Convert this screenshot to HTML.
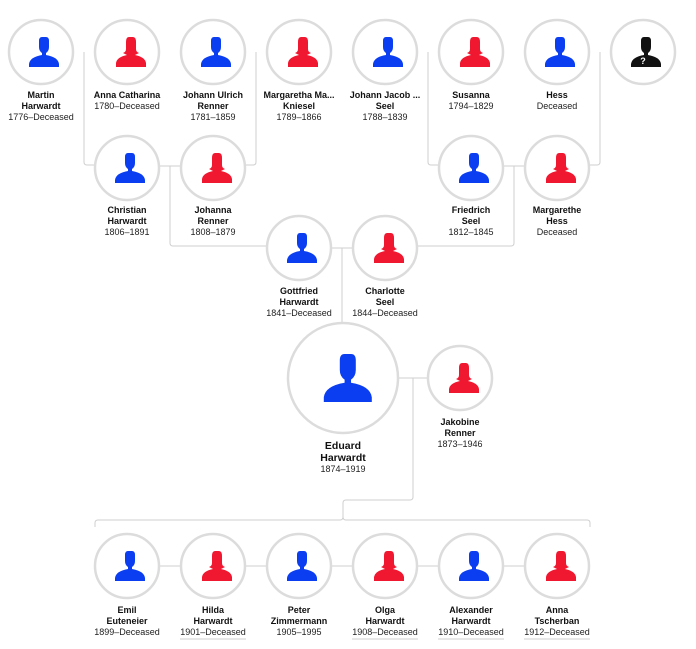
<!DOCTYPE html>
<html><head><meta charset="utf-8"><style>
html,body{margin:0;padding:0;background:#fff;}
svg{display:block;font-family:"Liberation Sans",sans-serif;}
.n{font-weight:bold;font-size:9px;fill:#111;text-anchor:middle}
.d{font-size:9px;fill:#222;text-anchor:middle}
.c{fill:#fff;stroke:#dcdcdc;stroke-width:2.5}
.l{fill:none;stroke:#cfcfcf;stroke-width:1}
</style></head><body>
<svg width="696" height="649" viewBox="0 0 696 649">
<defs>
<path id="m" d="M-5,-15 h10 q3,0 3,4 v6 q0,4 -3,6 v2 q12,2 13,9 v3 h-30 v-3 q1,-7 13,-9 v-2 q-3,-2 -3,-6 v-6 q0,-4 3,-4z" fill="#0b3ef0"/>
<path id="f" d="M-6,-15 h12 q3,0 3,5 v7 q0,3 3,4 l-4,2 q10,2 11,8 v4 h-30 v-4 q1,-6 11,-8 l-4,-2 q3,-1 3,-4 v-7 q0,-5 3,-5z" fill="#f01830"/>
<path id="u" d="M-5,-15 h10 q3,0 3,4 v6 q0,4 -3,6 v2 q12,2 13,9 v3 h-30 v-3 q1,-7 13,-9 v-2 q-3,-2 -3,-6 v-6 q0,-4 3,-4z" fill="#111"/>
</defs>
<!-- connectors -->
<path class="l" d="M84,52 V162 q0,3 3,3 H95"/>
<path class="l" d="M256,52 V162 q0,3 -3,3 H245"/>
<path class="l" d="M428,52 V162 q0,3 3,3 H439"/>
<path class="l" d="M600,52 V162 q0,3 -3,3 H589"/>
<path class="l" d="M159,166 H181 M170,166 V243 q0,3 3,3 H267"/>
<path class="l" d="M503,166 H525 M514,166 V243 q0,3 -3,3 H417"/>
<path class="l" d="M331,248 H353 M342,248 V325"/>
<path class="l" d="M398,378 H428 M413,378 V497 q0,3 -3,3 H346 q-3,0 -3,3 V517 q0,3 -3,3 H98 q-3,0 -3,3 V527 M343,517 q0,3 3,3 H587 q3,0 3,3 V527"/>
<path class="l" d="M159,566 H181 M245,566 H267 M331,566 H353 M417,566 H439 M503,566 H525"/>
<!-- nodes -->
<g>
<circle class="c" cx="41" cy="52" r="32"/><use href="#m" x="41" y="52"/>
<circle class="c" cx="127" cy="52" r="32"/><use href="#f" x="127" y="52"/>
<circle class="c" cx="213" cy="52" r="32"/><use href="#m" x="213" y="52"/>
<circle class="c" cx="299" cy="52" r="32"/><use href="#f" x="299" y="52"/>
<circle class="c" cx="385" cy="52" r="32"/><use href="#m" x="385" y="52"/>
<circle class="c" cx="471" cy="52" r="32"/><use href="#f" x="471" y="52"/>
<circle class="c" cx="557" cy="52" r="32"/><use href="#m" x="557" y="52"/>
<circle class="c" cx="643" cy="52" r="32"/><use href="#u" x="643" y="52"/>
<text x="643" y="64" font-size="9" font-weight="bold" fill="#fff" text-anchor="middle">?</text>
<circle class="c" cx="127" cy="168" r="32"/><use href="#m" x="127" y="168"/>
<circle class="c" cx="213" cy="168" r="32"/><use href="#f" x="213" y="168"/>
<circle class="c" cx="471" cy="168" r="32"/><use href="#m" x="471" y="168"/>
<circle class="c" cx="557" cy="168" r="32"/><use href="#f" x="557" y="168"/>
<circle class="c" cx="299" cy="248" r="32"/><use href="#m" x="299" y="248"/>
<circle class="c" cx="385" cy="248" r="32"/><use href="#f" x="385" y="248"/>
<circle class="c" cx="343" cy="378" r="55" stroke-width="3"/><use href="#m" x="343" y="378" transform="translate(343 378) scale(1.6) translate(-343 -378)"/>
<circle class="c" cx="460" cy="378" r="32"/><use href="#f" x="460" y="378"/>
<circle class="c" cx="127" cy="566" r="32"/><use href="#m" x="127" y="566"/>
<circle class="c" cx="213" cy="566" r="32"/><use href="#f" x="213" y="566"/>
<circle class="c" cx="299" cy="566" r="32"/><use href="#m" x="299" y="566"/>
<circle class="c" cx="385" cy="566" r="32"/><use href="#f" x="385" y="566"/>
<circle class="c" cx="471" cy="566" r="32"/><use href="#m" x="471" y="566"/>
<circle class="c" cx="557" cy="566" r="32"/><use href="#f" x="557" y="566"/>
</g>
<!-- labels -->
<text class="n" x="41" y="98">Martin</text><text class="n" x="41" y="109">Harwardt</text><text class="d" x="41" y="120">1776–Deceased</text>
<text class="n" x="127" y="98">Anna Catharina</text><text class="d" x="127" y="109">1780–Deceased</text>
<text class="n" x="213" y="98">Johann Ulrich</text><text class="n" x="213" y="109">Renner</text><text class="d" x="213" y="120">1781–1859</text>
<text class="n" x="299" y="98">Margaretha Ma...</text><text class="n" x="299" y="109">Kniesel</text><text class="d" x="299" y="120">1789–1866</text>
<text class="n" x="385" y="98">Johann Jacob ...</text><text class="n" x="385" y="109">Seel</text><text class="d" x="385" y="120">1788–1839</text>
<text class="n" x="471" y="98">Susanna</text><text class="d" x="471" y="109">1794–1829</text>
<text class="n" x="557" y="98">Hess</text><text class="d" x="557" y="109">Deceased</text>
<text class="n" x="127" y="213">Christian</text><text class="n" x="127" y="224">Harwardt</text><text class="d" x="127" y="235">1806–1891</text>
<text class="n" x="213" y="213">Johanna</text><text class="n" x="213" y="224">Renner</text><text class="d" x="213" y="235">1808–1879</text>
<text class="n" x="471" y="213">Friedrich</text><text class="n" x="471" y="224">Seel</text><text class="d" x="471" y="235">1812–1845</text>
<text class="n" x="557" y="213">Margarethe</text><text class="n" x="557" y="224">Hess</text><text class="d" x="557" y="235">Deceased</text>
<text class="n" x="299" y="294">Gottfried</text><text class="n" x="299" y="305">Harwardt</text><text class="d" x="299" y="316">1841–Deceased</text>
<text class="n" x="385" y="294">Charlotte</text><text class="n" x="385" y="305">Seel</text><text class="d" x="385" y="316">1844–Deceased</text>
<text class="n" x="343" y="449" style="font-size:10.5px">Eduard</text><text class="n" x="343" y="461" style="font-size:10.5px">Harwardt</text><text class="d" x="343" y="472">1874–1919</text>
<text class="n" x="460" y="425">Jakobine</text><text class="n" x="460" y="436">Renner</text><text class="d" x="460" y="447">1873–1946</text>
<text class="n" x="127" y="613">Emil</text><text class="n" x="127" y="624">Euteneier</text><text class="d" x="127" y="635">1899–Deceased</text>
<text class="n" x="213" y="613">Hilda</text><text class="n" x="213" y="624">Harwardt</text><text class="d" x="213" y="635">1901–Deceased</text>
<text class="n" x="299" y="613">Peter</text><text class="n" x="299" y="624">Zimmermann</text><text class="d" x="299" y="635">1905–1995</text>
<text class="n" x="385" y="613">Olga</text><text class="n" x="385" y="624">Harwardt</text><text class="d" x="385" y="635">1908–Deceased</text>
<text class="n" x="471" y="613">Alexander</text><text class="n" x="471" y="624">Harwardt</text><text class="d" x="471" y="635">1910–Deceased</text>
<text class="n" x="557" y="613">Anna</text><text class="n" x="557" y="624">Tscherban</text><text class="d" x="557" y="635">1912–Deceased</text>
<path class="l" d="M180,639 H246 M352,639 H418 M438,639 H504 M524,639 H590" stroke="#999"/>
</svg>
</body></html>
